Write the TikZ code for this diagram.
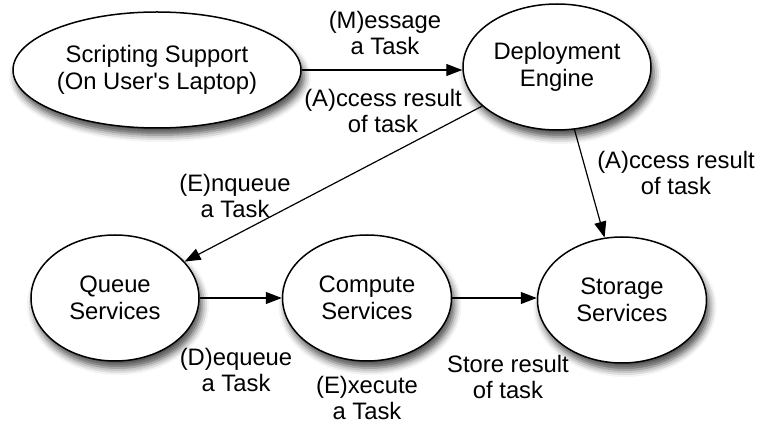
\documentclass[tikz,border=0pt]{standalone}
\usepackage{fontspec}
\setmainfont{Liberation Sans}[Ligatures=TeXOff]
\usetikzlibrary{shapes.geometric,arrows.meta,shadows.blur}
\begin{document}
\begin{tikzpicture}[x=0.5pt,y=-0.5pt,
  txt/.style={font=\fontsize{11.9}{13.3}\selectfont, align=center, inner sep=0pt},
  state/.style={txt, ellipse, draw, line width=0.75pt, fill=white,
    blur shadow={shadow xshift=1.5pt, shadow yshift=-3.5pt,
      shadow blur radius=3.5pt, shadow opacity=70}},
  flow/.style={line width=0.6pt, -{Triangle[length=8pt,width=6pt]}}]
  \useasboundingbox (0,0) rectangle (761,427);

  % services
  \node[state, minimum width=144pt, minimum height=58pt] (script) at (157,70)
    {Scripting Support\\(On User's Laptop)};
  \node[state, minimum width=94pt, minimum height=63pt] (deploy) at (557,67)
    {Deployment\\Engine};
  \node[state, minimum width=84pt, minimum height=63pt] (queue) at (115,298)
    {Queue\\Services};
  \node[state, minimum width=84.5pt, minimum height=63pt] (compute) at (367,298)
    {Compute\\Services};
  \node[state, minimum width=84.5pt, minimum height=63pt] (storage) at (622,300)
    {Storage\\Services};

  % task flow
  \draw[flow] (script.east) -- (script.east -| deploy.west);
  \draw[flow] (deploy) -- (queue);
  \draw[flow] (deploy) -- (storage);
  \draw[flow] (queue.east) -- (queue.east -| compute.west);
  \draw[flow] (compute.east) -- (compute.east -| storage.west);

  % step labels
  \node[txt] (lmsg) at (385,33) {(M)essage\\a Task};
  \node[txt] (lacc) at (383,111) {(A)ccess result\\of task};
  \node[txt] (lenq) at (235,196) {(E)nqueue\\a Task};
  \node[txt] (lacs) at (676,173) {(A)ccess result\\of task};
  \node[txt] (ldeq) at (236,370) {(D)equeue\\a Task};
  \node[txt] (lexe) at (367,398) {(E)xecute\\a Task};
  \node[txt] (lsto) at (508,377) {Store result\\of task};
\end{tikzpicture}
\end{document}
